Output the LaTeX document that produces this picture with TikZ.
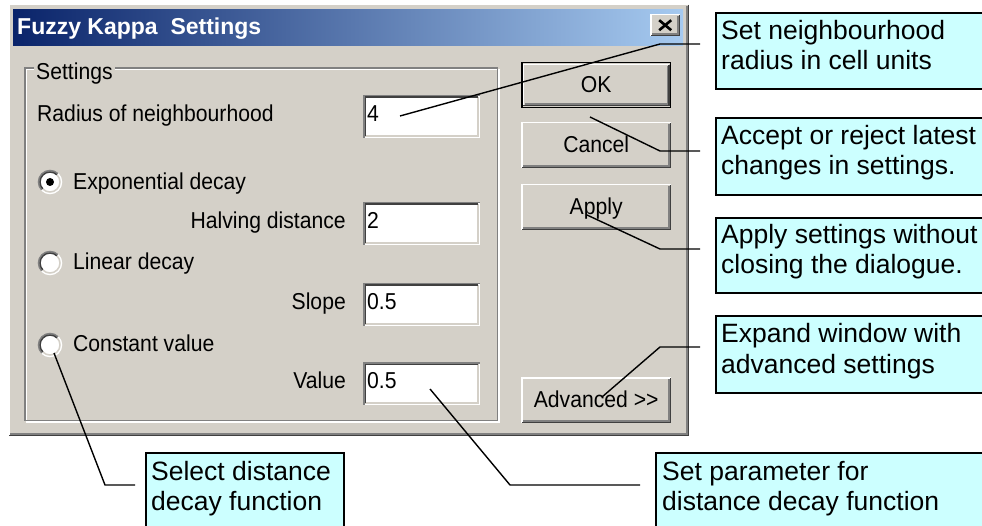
\documentclass[tikz,border=0pt]{standalone}
\usepackage{fontspec}
\setmainfont{Liberation Sans}
\newfontfamily\dlgfam[FakeStretch=0.92]{Liberation Sans}
\usetikzlibrary{calc}
\definecolor{dlg}{HTML}{D4D0C8}
\definecolor{dkg}{HTML}{808080}
\definecolor{vdk}{HTML}{404040}
\definecolor{navy}{HTML}{0A246A}
\definecolor{ltblue}{HTML}{A6CAF0}
\definecolor{cyanbox}{HTML}{CCFFFF}
\newcommand\dlgfont{\dlgfam\fontsize{23}{27}\selectfont}
\newcommand\raisededge[1]{%
 \draw[white,line width=1.5pt] ($(#1.south west)+(0.75,-0.75)$) -- ($(#1.north west)+(0.75,0.75)$) -- ($(#1.north east)+(-0.75,0.75)$);
 \draw[vdk,line width=1.5pt] ($(#1.north east)+(-0.75,0.75)$) -- ($(#1.south east)+(-0.75,-0.75)$) -- ($(#1.south west)+(0.75,-0.75)$);
 \draw[dkg,line width=1.5pt] ($(#1.north east)+(-2.25,2.25)$) -- ($(#1.south east)+(-2.25,-2.25)$) -- ($(#1.south west)+(2.25,-2.25)$);
}
\newcommand\sunkenedge[1]{%
 \draw[white,line width=1.5pt] ($(#1.north east)+(-0.75,0.75)$) -- ($(#1.south east)+(-0.75,-0.75)$) -- ($(#1.south west)+(0.75,-0.75)$);
 \draw[dkg,line width=1.5pt] ($(#1.south west)+(0.75,-0.75)$) -- ($(#1.north west)+(0.75,0.75)$) -- ($(#1.north east)+(-0.75,0.75)$);
 \draw[dlg,line width=1.5pt] ($(#1.north east)+(-2.25,2.25)$) -- ($(#1.south east)+(-2.25,-2.25)$) -- ($(#1.south west)+(2.25,-2.25)$);
 \draw[vdk,line width=1.5pt] ($(#1.south west)+(2.25,-2.25)$) -- ($(#1.north west)+(2.25,2.25)$) -- ($(#1.north east)+(-2.25,2.25)$);
}
\newcommand\radiobtn[2]{%
 \node[circle, fill=white, minimum size=22pt, inner sep=0pt] (#1) at (50,#2) {};
 \begin{scope}
  \clip ($(#1)+(-20,20)$) -- ($(#1)+(20,-20)$) -- ($(#1)+(-20,-20)$) -- cycle;
  \draw[dkg,line width=1.5pt] (#1.center) circle[radius=11.5pt];
  \draw[vdk,line width=1.5pt] (#1.center) circle[radius=10pt];
 \end{scope}
 \begin{scope}
  \clip ($(#1)+(-20,20)$) -- ($(#1)+(20,-20)$) -- ($(#1)+(20,20)$) -- cycle;
  \draw[white,line width=1.5pt] (#1.center) circle[radius=11.5pt];
  \draw[dlg,line width=1.5pt] (#1.center) circle[radius=10pt];
 \end{scope}
}
\begin{document}
\begin{tikzpicture}[x=1pt,y=-1pt,
  lbl/.style={font=\dlgfont, inner sep=0pt},
  btn/.style={fill=dlg, minimum width=150pt, minimum height=46pt, inner sep=0pt, anchor=north west, font=\dlgfont, text height=19pt, text depth=5pt},
  editbox/.style={fill=white, minimum width=117pt, minimum height=43pt, anchor=north west, inner xsep=4pt, inner ysep=0pt, text width=109pt, align=left, font=\dlgfont, text height=15pt, text depth=6pt},
  callout/.style={draw=black, line width=1.6pt, fill=cyanbox, anchor=north west, inner sep=0pt},
  ctext/.style={anchor=base west, inner sep=0pt, align=left, font=\fontsize{26.5}{30}\selectfont},
  leader/.style={draw=black, line width=1.4pt}]
\useasboundingbox (0,0) rectangle (982,526);
\fill[white] (0,0) rectangle (982,526);

% window
\node[fill=dlg, minimum width=681pt, minimum height=432pt, anchor=north west, inner sep=0pt] (win) at (8,4) {};
\raisededge{win}
\node[anchor=north west, minimum width=670pt, minimum height=36pt, inner sep=0pt, left color=navy, right color=ltblue] (title) at (13,9) {};
\node[anchor=base west, inner sep=0pt, text=white, font=\bfseries\fontsize{23}{27}\selectfont] (ttext) at (17,35) {Fuzzy Kappa\ \ Settings};
\node[fill=dlg, minimum width=30pt, minimum height=22pt, anchor=north west, inner sep=0pt] (close) at (650,14) {};
\raisededge{close}
\draw[line width=2.6pt] ($(close.center)+(-6,-5)$) -- ($(close.center)+(6,5)$);
\draw[line width=2.6pt] ($(close.center)+(-6,5)$) -- ($(close.center)+(6,-5)$);

% group box
\node[minimum width=472pt, minimum height=352pt, anchor=north west, inner sep=0pt] (grp) at (25,68) {};
\draw[white,line width=1.5pt] ($(grp.north west)+(1.5,1.5)$) rectangle ($(grp.south east)+(1.5,1.5)$);
\draw[dkg,line width=1.5pt] (grp.north west) rectangle (grp.south east);
\node[lbl, fill=dlg, anchor=base west, inner xsep=2pt, inner ysep=1pt] (grplbl) at (34,80) {Settings};

% labels
\node[lbl, anchor=base west] (lrad) at (37,122) {Radius of neighbourhood};
\node[lbl, anchor=base west] (lexp) at (73,190) {Exponential decay};
\node[lbl, anchor=base east] (lhalf) at (346,229) {Halving distance};
\node[lbl, anchor=base west] (llin) at (73,270) {Linear decay};
\node[lbl, anchor=base east] (lslope) at (346,310) {Slope};
\node[lbl, anchor=base west] (lconst) at (73,352) {Constant value};
\node[lbl, anchor=base east] (lval) at (346,388) {Value};

% radio buttons
\radiobtn{rexp}{182}
\radiobtn{rlin}{263}
\radiobtn{rconst}{345}
\fill[black] (rexp.center) circle[radius=4pt];

% edit boxes
\node[editbox] (e1) at (363,95) {4};
\sunkenedge{e1}
\node[editbox] (e2) at (363,202) {2};
\sunkenedge{e2}
\node[editbox] (e3) at (363,283) {0.5};
\sunkenedge{e3}
\node[editbox] (e4) at (363,362) {0.5};
\sunkenedge{e4}

% buttons
\node[btn] (ok) at (521,62) {OK};
\draw[black,line width=1.5pt] ($(ok.north west)+(0.75,0.75)$) rectangle ($(ok.south east)+(-0.75,-0.75)$);
\node[minimum width=147pt, minimum height=42pt, inner sep=0pt] (okin) at (ok.center) {};
\raisededge{okin}
\node[btn] (cancel) at (521,122) {Cancel};
\raisededge{cancel}
\node[btn] (apply) at (521,184) {Apply};
\raisededge{apply}
\node[btn] (adv) at (521,377) {Advanced >>};
\raisededge{adv}

% callouts
\node[callout, minimum width=280pt, minimum height=76pt] (b1) at (715,12) {};
\node[ctext] (t1) at ($(b1.north west)+(6,58)$) {Set neighbourhood\\radius in cell units};
\node[callout, minimum width=280pt, minimum height=77pt] (b2) at (715,117) {};
\node[ctext] (t2) at ($(b2.north west)+(6,58)$) {Accept or reject latest\\changes in settings.};
\node[callout, minimum width=280pt, minimum height=75pt] (b3) at (715,217) {};
\node[ctext] (t3) at ($(b3.north west)+(6,57)$) {Apply settings without\\closing the dialogue.};
\node[callout, minimum width=280pt, minimum height=77pt] (b4) at (715,315) {};
\node[ctext] (t4) at ($(b4.north west)+(6,58)$) {Expand window with\\advanced settings};
\node[callout, minimum width=198pt, minimum height=90pt] (b5) at (145,452) {};
\node[ctext] (t5) at ($(b5.north west)+(6,58)$) {Select distance\\decay function};
\node[callout, minimum width=340pt, minimum height=90pt] (b6) at (655,452) {};
\node[ctext] (t6) at ($(b6.north west)+(7,58)$) {Set parameter for\\distance decay function};

% leaders
\coordinate (p1) at (400,116); \coordinate (k1) at (660,44); \coordinate (q1) at (700,44);
\coordinate (p2) at (590,117); \coordinate (k2) at (660,151); \coordinate (q2) at (700,151);
\coordinate (p3) at (587,215); \coordinate (k3) at (660,249); \coordinate (q3) at (700,249);
\coordinate (p4) at (602,397); \coordinate (k4) at (660,347); \coordinate (q4) at (700,347);
\coordinate (p5) at (54,353);  \coordinate (k5) at (105,485); \coordinate (q5) at (135,485);
\coordinate (p6) at (430,389); \coordinate (k6) at (510,485); \coordinate (q6) at (640,485);
\draw[leader] (p1) -- (k1) -- (q1);
\draw[leader] (p2) -- (k2) -- (q2);
\draw[leader] (p3) -- (k3) -- (q3);
\draw[leader] (p4) -- (k4) -- (q4);
\draw[leader] (p5) -- (k5) -- (q5);
\draw[leader] (p6) -- (k6) -- (q6);
\end{tikzpicture}
\end{document}
